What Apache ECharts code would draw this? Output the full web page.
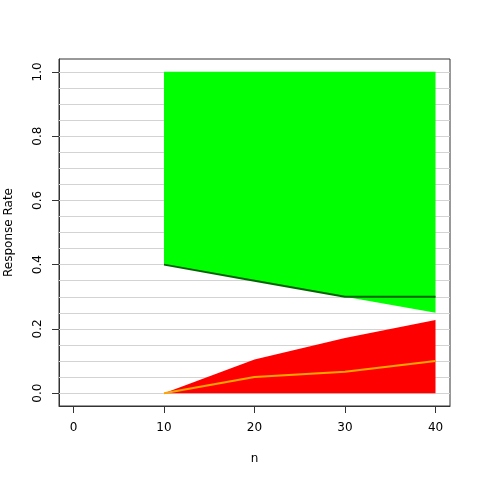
<!DOCTYPE html>
<html>
<head>
<meta charset="utf-8">
<script src="https://cdn.jsdelivr.net/npm/echarts@6/dist/echarts.min.js"></script>
<style>
  html, body { margin: 0; padding: 0; background: #fff; }
  #chart { width: 480px; height: 480px; }
</style>
</head>
<body>
<div id="chart"></div>
<script>
// data
let n = [10, 20, 30, 40];
let greenLower = [0.40, 0.35, 0.30, 0.25];
let greenTop = 1.0;
let darkGreenLine = [0.40, 0.35, 0.30, 0.30];
let redUpper = [0, 0.105, 0.172, 0.228];
let orangeLine = [0, 0.05, 0.0667, 0.1];

let xTicks = [0, 10, 20, 30, 40];
let yTicks = [0, 0.2, 0.4, 0.6, 0.8, 1.0];
let gridValues = [0, 0.05, 0.1, 0.15, 0.2, 0.25, 0.3, 0.35, 0.4, 0.45, 0.5,
    0.55, 0.6, 0.65, 0.7, 0.75, 0.8, 0.85, 0.9, 0.95, 1.0];

let pairs = (ys) => n.map((x, i) => [x, ys[i]]);

let myChart = echarts.init(document.getElementById('chart'));

let font = 'DejaVu Sans';

let option = {
    animation: false,
    textStyle: { fontFamily: font },
    grid: {
        left: 59,
        right: 30,
        top: 59,
        bottom: 74,
        outerBoundsMode: 'none',
        containLabel: false,
        show: true,
        borderColor: '#333',
        borderWidth: 1,
        backgroundColor: 'transparent'
    },
    xAxis: {
        type: 'value',
        min: -1.6,
        max: 41.6,
        name: 'n',
        nameLocation: 'middle',
        nameGap: 47,
        nameTextStyle: { fontSize: 12, color: '#000', fontFamily: font },
        axisLine: { show: true, onZero: false, lineStyle: { color: '#333' } },
        axisTick: { show: true, length: 7, customValues: xTicks, lineStyle: { color: '#333' } },
        axisLabel: {
            customValues: xTicks,
            margin: 16,
            fontSize: 12,
            color: '#000',
            fontFamily: font
        },
        splitLine: { show: false }
    },
    yAxis: {
        type: 'value',
        min: -0.04,
        max: 1.04,
        name: 'Response Rate',
        nameLocation: 'middle',
        nameGap: 44,
        nameTextStyle: { fontSize: 12, color: '#000', fontFamily: font },
        axisLine: { show: true, onZero: false, lineStyle: { color: '#333' } },
        axisTick: { show: true, length: 7, customValues: yTicks, lineStyle: { color: '#333' } },
        axisLabel: {
            customValues: yTicks,
            rotate: 90,
            margin: 15,
            fontSize: 12,
            color: '#000',
            fontFamily: font,
            formatter: (v) => v.toFixed(1)
        },
        splitLine: { show: false }
    },
    series: [{
        // horizontal grid lines
        name: 'grid',
        type: 'line',
        data: [],
        z: 1,
        silent: true,
        markLine: {
            z: 1,
            silent: true,
            symbol: 'none',
            label: { show: false },
            lineStyle: { color: '#d3d3d3', width: 1, type: 'solid' },
            data: gridValues.map(v => ({ yAxis: v }))
        }
    }, {
        name: 'green',
        type: 'line',
        data: pairs(greenLower),
        showSymbol: false,
        lineStyle: { width: 0 },
        areaStyle: { color: '#00ff00', opacity: 1, origin: greenTop },
        z: 2
    }, {
        name: 'red',
        type: 'line',
        data: pairs(redUpper),
        showSymbol: false,
        lineStyle: { width: 0 },
        areaStyle: { color: '#ff0000', opacity: 1, origin: 0 },
        z: 2
    }, {
        name: 'darkgreen',
        type: 'line',
        data: pairs(darkGreenLine),
        showSymbol: false,
        lineStyle: { color: '#006400', width: 2 },
        z: 3
    }, {
        name: 'orange',
        type: 'line',
        data: pairs(orangeLine),
        showSymbol: false,
        lineStyle: { color: '#ffa500', width: 2 },
        z: 3
    }]
};

myChart.setOption(option);
</script>
</body>
</html>
